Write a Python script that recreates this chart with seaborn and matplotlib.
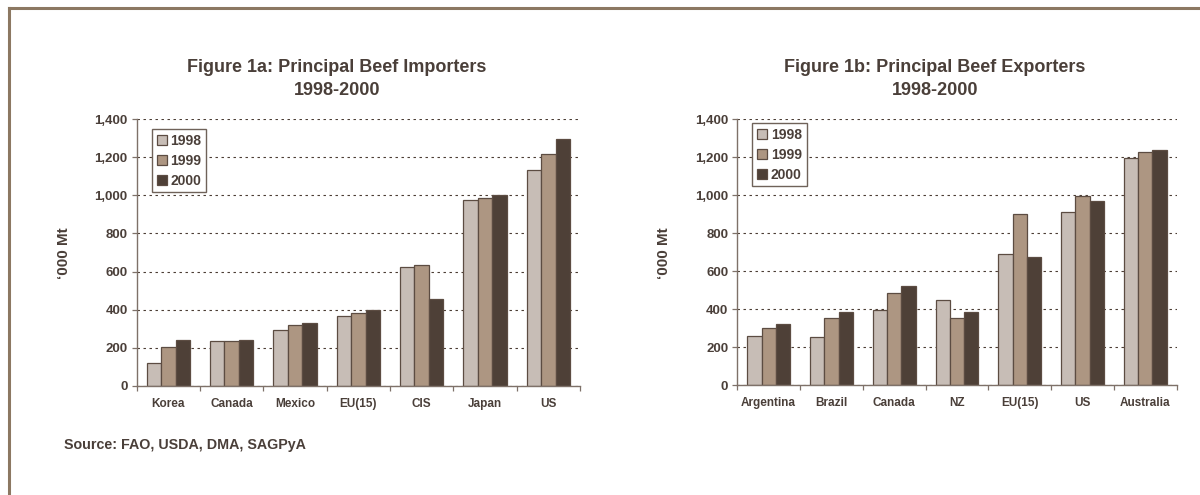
import matplotlib
matplotlib.use("Agg")
import matplotlib.pyplot as plt
import matplotlib.ticker as mticker
from matplotlib.lines import Line2D
import numpy as np
import pandas as pd
import seaborn as sns

# ---------------- data ----------------
years = ["1998", "1999", "2000"]

importers = ["Korea", "Canada", "Mexico", "EU(15)", "CIS", "Japan", "US"]
imp_1998 = [122, 236, 294, 365, 624, 977, 1131]
imp_1999 = [206, 236, 318, 381, 634, 986, 1216]
imp_2000 = [241, 241, 329, 398, 456, 1000, 1293]

exporters = ["Argentina", "Brazil", "Canada", "NZ", "EU(15)", "US", "Australia"]
exp_1998 = [256, 251, 395, 447, 689, 909, 1196]
exp_1999 = [300, 353, 484, 353, 900, 995, 1228]
exp_2000 = [321, 386, 523, 383, 672, 967, 1235]

y_ticks = [0, 200, 400, 600, 800, 1000, 1200, 1400]

title_a = ["Figure 1a: Principal Beef Importers", "1998-2000"]
title_b = ["Figure 1b: Principal Beef Exporters", "1998-2000"]
y_label = "‘000 Mt"
source = "Source: FAO, USDA, DMA, SAGPyA"

# ---------------- style ----------------
sns.set_theme(style="white")
plt.rcParams["font.family"] = ["Liberation Sans", "DejaVu Sans"]
plt.rcParams["font.weight"] = "bold"

bar_colors = ["#C7BDB6", "#AD9682", "#4E4037"]
edge_col = "#5C4C42"
text_col = "#4A3F39"
spine_col = "#7E7169"
grid_col = "#4A3C33"
border_col = "#8C7862"

W, H = 1200, 495
fig = plt.figure(figsize=(W / 100, H / 100), dpi=100)
fig.patch.set_facecolor("white")


def make_df(cats, a, b, c):
    rows = []
    for yr, vals in zip(years, [a, b, c]):
        for cat, v in zip(cats, vals):
            rows.append({"country": cat, "year": yr, "value": v})
    return pd.DataFrame(rows)


def px_axes(x0, x1, ytop, ybot):
    return fig.add_axes([x0 / W, 1 - ybot / H, (x1 - x0) / W, (ybot - ytop) / H])


def draw(ax, cats, df, legend_xy):
    sns.barplot(data=df, x="country", y="value", hue="year", order=cats,
                hue_order=years, palette=bar_colors, saturation=1,
                width=0.684, gap=0, edgecolor=edge_col, linewidth=0.9,
                errorbar=None, ax=ax, legend=True)
    ax.set_xlim(-0.5, len(cats) - 0.5)
    ax.set_ylim(0, 1400)
    ax.set_yticks(y_ticks)
    ax.yaxis.set_major_formatter(mticker.FuncFormatter(lambda v, p: f"{int(v):,}"))
    ax.set_xlabel("")
    ax.set_ylabel("")
    ax.set_facecolor("white")
    for s in ["top", "right"]:
        ax.spines[s].set_visible(False)
    for s in ["left", "bottom"]:
        ax.spines[s].set_color(spine_col)
        ax.spines[s].set_linewidth(1.0)
    ax.yaxis.grid(True, linestyle=(0, (2.2, 3.2)), color=grid_col, linewidth=0.8)
    ax.xaxis.grid(False)
    ax.set_axisbelow(True)
    ax.set_xticks(np.arange(-0.5, len(cats), 1.0), minor=True)
    ax.tick_params(axis="x", which="major", length=0, pad=8.5, labelsize=8.5,
                   labelcolor=text_col)
    ax.tick_params(axis="x", which="minor", length=3.5, width=0.9,
                   color=spine_col, direction="out", bottom=True)
    ax.tick_params(axis="y", which="major", length=3.5, width=0.9,
                   color=spine_col, direction="out", left=True, pad=3,
                   labelsize=9.5, labelcolor=text_col)
    for t in ax.get_xticklabels() + ax.get_yticklabels():
        t.set_fontweight("bold")
    leg = ax.legend(loc="upper left", bbox_to_anchor=(legend_xy[0] / W, 1 - legend_xy[1] / H),
                    bbox_transform=fig.transFigure, frameon=True, fancybox=False,
                    framealpha=1, edgecolor="#6F6259", handlelength=0.75,
                    handleheight=0.75, handletextpad=0.25, labelspacing=0.42,
                    borderpad=0.35, borderaxespad=0, prop={"size": 10, "weight": "bold"})
    leg.get_frame().set_linewidth(1.0)
    for t in leg.get_texts():
        t.set_color(text_col)


ax1 = px_axes(136.7, 580.0, 119, 386)
draw(ax1, importers, make_df(importers, imp_1998, imp_1999, imp_2000), (151.7, 129))

ax2 = px_axes(737.3, 1176.7, 119, 385)
draw(ax2, exporters, make_df(exporters, exp_1998, exp_1999, exp_2000), (752, 123))

# titles
for xc, lines in ((337, title_a), (935, title_b)):
    for yc, line in zip((67, 90), lines):
        fig.text(xc / W, 1 - yc / H, line, ha="center", va="center", fontsize=13,
                 fontweight="bold", color=text_col)

# y labels
for xc in (64, 664):
    fig.text(xc / W, 1 - 253 / H, y_label, rotation=90, ha="center", va="center",
             fontsize=11, fontweight="bold", color=text_col)

# source
fig.text(64 / W, 1 - 445 / H, source, ha="left", va="center", fontsize=10.3,
         fontweight="bold", color=text_col)

# frame (top and left edge)
fig.add_artist(Line2D([8.5 / W, 8.5 / W], [1 - 7.5 / H, 0], transform=fig.transFigure,
                      color=border_col, linewidth=2.2, solid_capstyle="projecting"))
fig.add_artist(Line2D([8.5 / W, 1.0], [1 - 7.5 / H, 1 - 7.5 / H], transform=fig.transFigure,
                      color=border_col, linewidth=2.2, solid_capstyle="projecting"))

fig.savefig("out.png", dpi=100, facecolor="white")
